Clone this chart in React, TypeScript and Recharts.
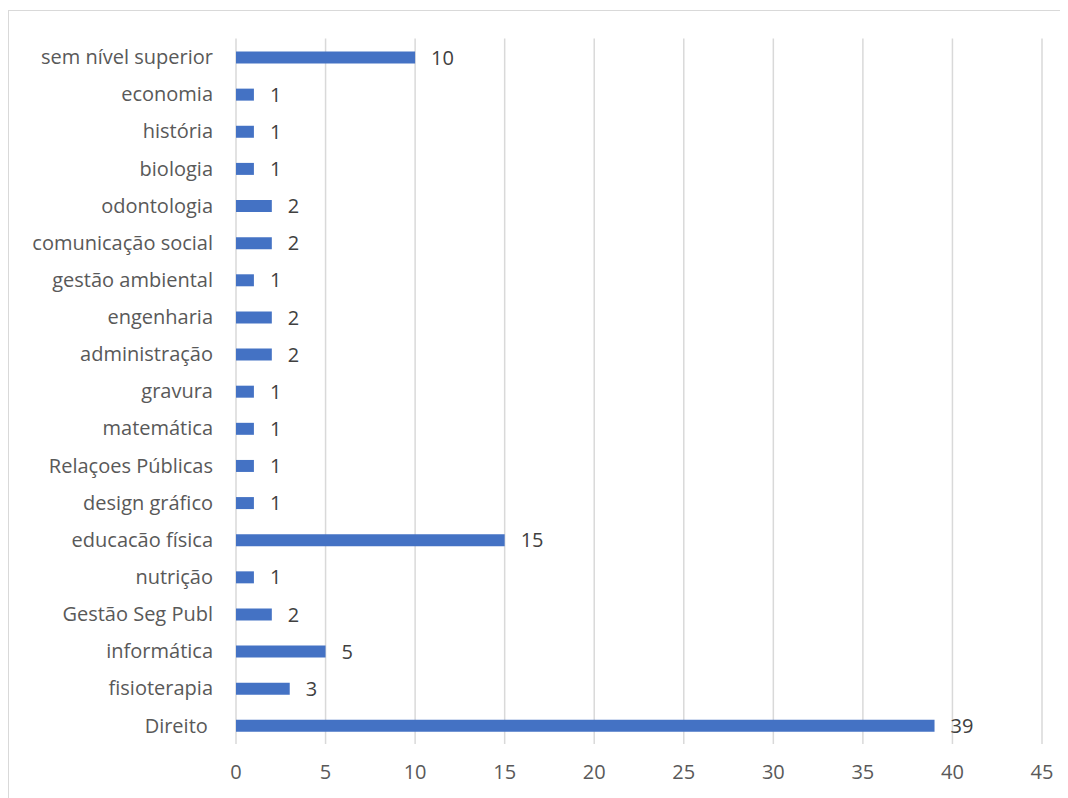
import React from "react";
import { BarChart, Bar, XAxis, YAxis, CartesianGrid, LabelList } from "recharts";

const categories = [
  "sem nível superior",
  "economia",
  "história",
  "biologia",
  "odontologia",
  "comunicação social",
  "gestão ambiental",
  "engenharia",
  "administração",
  "gravura",
  "matemática",
  "Relaçoes Públicas",
  "design gráfico",
  "educacão física",
  "nutrição",
  "Gestão Seg Publ",
  "informática",
  "fisioterapia",
  "Direito\u00a0",
];
const values = [10, 1, 1, 1, 2, 2, 1, 2, 2, 1, 1, 1, 1, 15, 1, 2, 5, 3, 39];
const xTicks = [0, 5, 10, 15, 20, 25, 30, 35, 40, 45];

const data = categories.map((c, i) => ({ name: c, value: values[i] }));

const FONT = "'Open Sans', sans-serif";

export default function App() {
  return (
    <div
      style={{
        marginTop: 2,
        width: 1060,
        height: 788,
        borderLeft: "1px solid #d9d9d9",
        borderTop: "1px solid #d9d9d9",
        fontFamily: FONT,
      }}
    >
      <BarChart
        width={1059}
        height={787}
        data={data}
        layout="vertical"
        margin={{ top: 27.5, right: 26, bottom: 24, left: 0 }}
      >
        <CartesianGrid horizontal={false} vertical stroke="#d9d9d9" strokeWidth={1.5} />
        <XAxis
          type="number"
          domain={[0, 45]}
          ticks={xTicks}
          axisLine={false}
          tickLine={false}
          tickSize={0}
          tickMargin={21}
          height={30}
          interval={0}
          tick={{ fill: "#595959", fontSize: 20, fontFamily: FONT }}
        />
        <YAxis
          type="category"
          dataKey="name"
          width={227}
          axisLine={false}
          tickLine={false}
          tickSize={0}
          tickMargin={23}
          interval={0}
          tick={{ fill: "#595959", fontSize: 20, fontFamily: FONT }}
        />
        <Bar dataKey="value" fill="#4472c4" barSize={12} isAnimationActive={false}>
          <LabelList
            dataKey="value"
            position="right"
            offset={16}
            fill="#404040"
            fontSize={20}
            fontFamily={FONT}
          />
        </Bar>
      </BarChart>
    </div>
  );
}
